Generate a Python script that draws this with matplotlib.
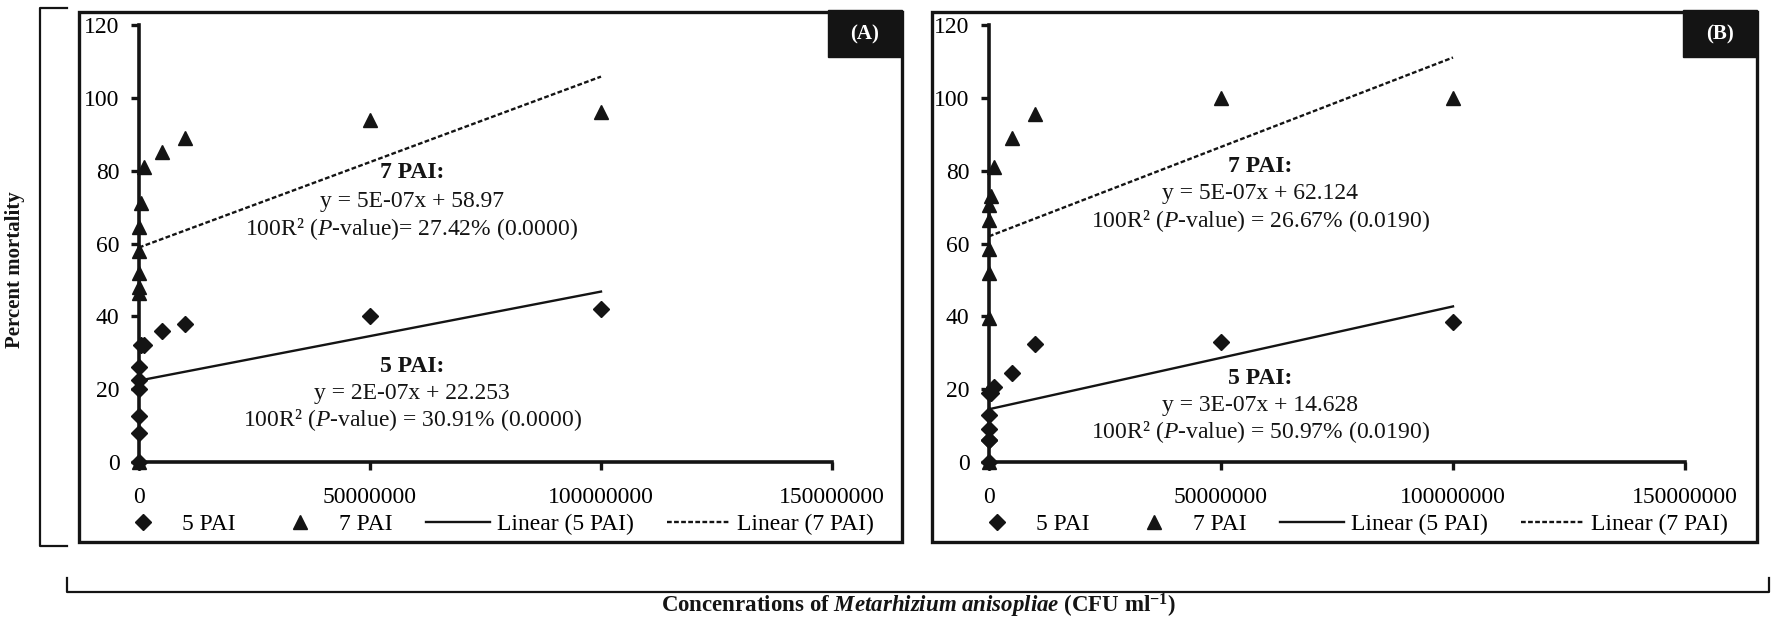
import numpy as np
import matplotlib
matplotlib.use("Agg")
import matplotlib.pyplot as plt
from matplotlib.patches import Rectangle
from matplotlib.lines import Line2D

plt.rcParams["font.family"] = "Liberation Serif"
plt.rcParams["mathtext.fontset"] = "custom"
plt.rcParams["mathtext.rm"] = "Liberation Serif"
plt.rcParams["mathtext.it"] = "Liberation Serif:italic"
plt.rcParams["mathtext.bf"] = "Liberation Serif:bold"
plt.rcParams["mathtext.bfit"] = "Liberation Serif:bold:italic"

# concentrations (CFU/ml) - the low doses all sit on the y axis at this scale
conc = [0, 1e1, 1e2, 1e3, 1e4, 1e5, 5e5, 1e6, 5e6, 1e7, 5e7, 1e8]

# percent mortality, panel (A)
pai5_a = [0, 8, 12.5, 20, 22.5, 26, 32, 32, 36, 38, 40, 42]
pai7_a = [0, 46.5, 48, 52, 58, 64.5, 71, 81, 85, 89, 94, 96]
# percent mortality, panel (B)
pai5_b = [0, 6, 6, 9, 13, 19, 19, 20.5, 24.5, 32.5, 33, 38.5]
pai7_b = [0, 39.5, 52, 58.5, 66.5, 70.5, 73, 81, 89, 95.5, 100, 100]

x_ticks = [0, 50000000, 100000000, 150000000]
x_tick_labels = ["0", "50000000", "100000000", "150000000"]
y_ticks = [0, 20, 40, 60, 80, 100, 120]

notes_a = [["7 PAI:", "y = 5E-07x + 58.97", "100R\u00b2 ($\\it{P}$-value)= 27.42% (0.0000)"],
           ["5 PAI:", "y = 2E-07x + 22.253", "100R\u00b2 ($\\it{P}$-value) = 30.91% (0.0000)"]]
notes_b = [["7 PAI:", "y = 5E-07x + 62.124", "100R\u00b2 ($\\it{P}$-value) = 26.67% (0.0190)"],
           ["5 PAI:", "y = 3E-07x + 14.628", "100R\u00b2 ($\\it{P}$-value) = 50.97% (0.0190)"]]

W, H = 1776, 620
INK = "#141414"
fig = plt.figure(figsize=(W / 100, H / 100), dpi=100)


def fx(x):
    return x / W


def fy(y):
    return 1 - y / H


def fig_line(xs, ys, lw=1.6):
    fig.add_artist(Line2D([fx(v) for v in xs], [fy(v) for v in ys],
                          transform=fig.transFigure, color=INK, lw=lw))


def draw_panel(ax_left, ax_right, box_left, box_right, tag, y5, y7, notes, note_x, note_ys):
    # outer frame of the panel
    fig.add_artist(Rectangle((fx(box_left), fy(542)), (box_right - box_left) / W, 530 / H,
                             transform=fig.transFigure, fill=False, lw=2.4, edgecolor=INK))
    # black tag in the top right corner
    fig.add_artist(Rectangle((fx(box_right - 74), fy(57)), 74 / W, 47 / H,
                             transform=fig.transFigure, facecolor=INK, edgecolor=INK))
    fig.text(fx(box_right - 37), fy(34), tag, color="white", fontsize=15,
             fontweight="bold", ha="center", va="center")

    ax = fig.add_axes([fx(ax_left), fy(462), (ax_right - ax_left) / W, 437 / H])
    ax.set_facecolor("none")
    x = np.array(conc)
    ax.plot(x, y5, linestyle="none", marker="D", markersize=8, color=INK,
            clip_on=False, zorder=5, label="5 PAI")
    ax.plot(x, y7, linestyle="none", marker="^", markersize=10, color=INK,
            clip_on=False, zorder=5, label="7 PAI")
    # linear trendlines, fitted like Excel does
    xs = np.array([0, x.max()])
    k5, b5 = np.polyfit(x, y5, 1)
    k7, b7 = np.polyfit(x, y7, 1)
    ax.plot(xs, k5 * xs + b5, color=INK, lw=1.7, label="Linear (5 PAI)")
    ax.plot(xs, k7 * xs + b7, color=INK, lw=1.7, linestyle=(0, (2, 1)),
            label="Linear (7 PAI)")

    ax.set_xlim(0, 150000000)
    ax.set_ylim(0, 120)
    ax.set_xticks(x_ticks)
    ax.set_xticklabels(x_tick_labels)
    ax.set_yticks(y_ticks)
    for side in ["top", "right"]:
        ax.spines[side].set_visible(False)
    for side in ["left", "bottom"]:
        ax.spines[side].set_linewidth(2.6)
        ax.spines[side].set_color(INK)
    ax.tick_params(direction="out", length=6, width=2.4, color=INK, labelsize=17)
    ax.tick_params(axis="x", pad=12)
    ax.tick_params(axis="y", pad=8)

    for block, ys in zip(notes, note_ys):
        for i, (line, yy) in enumerate(zip(block, ys)):
            fig.text(fx(note_x), fy(yy), line, fontsize=17, ha="center", va="center",
                     fontweight="bold" if i == 0 else "normal", color=INK)

    ax.legend(loc="center", bbox_to_anchor=(fx((box_left + box_right) / 2 + 2), fy(524)),
              bbox_transform=fig.transFigure, ncol=4, frameon=False, fontsize=17,
              handlelength=2.7, handletextpad=0.3, columnspacing=1.4, borderpad=0)
    return ax


draw_panel(139, 832, 79, 902, "(A)", pai5_a, pai7_a, notes_a, 412,
           [[173, 202, 229], [366, 393, 420]])
draw_panel(989, 1685, 932, 1757, "(B)", pai5_b, pai7_b, notes_b, 1260,
           [[166, 193, 221], [378, 405, 432]])

# brackets tying the shared axis titles to the panels
fig_line([67, 40, 40, 67], [8, 8, 546, 546])
fig_line([67, 67, 1769, 1769], [578, 592, 592, 578])

fig.text(fx(15), fy(270), "Percent mortality", rotation=90, fontsize=15,
         fontweight="bold", ha="center", va="center", color=INK)
fig.text(fx(918), fy(606),
         "Concenrations of $\\mathbfit{Metarhizium\\ anisopliae}$ (CFU ml$^{\\mathbf{-1}}$)",
         fontsize=16.5, fontweight="bold", ha="center", va="center", color=INK)

fig.savefig("out.png", dpi=100)
